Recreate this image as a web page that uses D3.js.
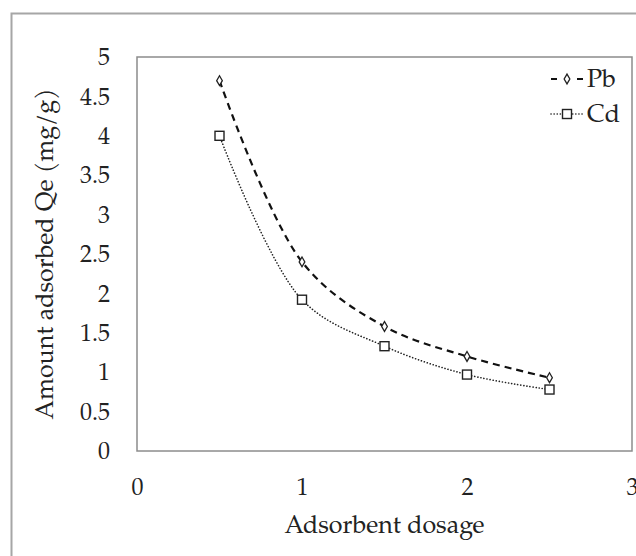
<!DOCTYPE html>
<html>
<head>
<meta charset="utf-8">
<script src="https://d3js.org/d3.v7.min.js"></script>
<style>
  body { margin: 0; background: #fff; }
  svg { display: block; }
</style>
</head>
<body>
<svg width="636" height="556"></svg>
<script>
// values
var dosage = [0.5, 1, 1.5, 2, 2.5];
var pb = [4.7, 2.4, 1.58, 1.2, 0.93];
var cd = [4.0, 1.92, 1.33, 0.97, 0.78];
var xTicks = [0, 1, 2, 3];
var yTicks = [0, 0.5, 1, 1.5, 2, 2.5, 3, 3.5, 4, 4.5, 5];

var FONT = '"TeX Gyre Pagella", "Liberation Serif", serif';
var svg = d3.select('svg');
var L = 137, R = 632, T = 57, B = 451;

// outer frame
svg.append('rect')
    .attr('x', 11.5).attr('y', 13.5)
    .attr('width', 700).attr('height', 700)
    .attr('fill', 'none').attr('stroke', '#a6a6a6').attr('stroke-width', 2);

var x = d3.scaleLinear().domain([0, 3]).range([L, R]);
var y = d3.scaleLinear().domain([0, 5]).range([B, T]);

// plot box
svg.append('rect')
    .attr('x', L).attr('y', T)
    .attr('width', R - L).attr('height', B - T)
    .attr('fill', 'none').attr('stroke', '#8c8c8c').attr('stroke-width', 1.5);

svg.append('g')
    .attr('transform', 'translate(' + L + ',0)')
    .call(d3.axisLeft(y).tickValues(yTicks).tickSize(0).tickPadding(27)
        .tickFormat(function (d) { return d; }));
svg.append('g')
    .attr('transform', 'translate(0,' + B + ')')
    .call(d3.axisBottom(x).tickValues(xTicks).tickSize(0).tickPadding(27)
        .tickFormat(d3.format('d')));

svg.selectAll('.domain').remove();
svg.selectAll('.tick text')
    .attr('font-family', FONT)
    .attr('font-size', 24).attr('fill', '#222');

svg.append('text')
    .attr('x', (L + R) / 2).attr('y', 533)
    .attr('text-anchor', 'middle').attr('font-family', FONT)
    .attr('font-size', 25).attr('fill', '#222')
    .text('Adsorbent dosage');

svg.append('text')
    .attr('transform', 'translate(53,' + ((T + B) / 2) + ') rotate(-90)')
    .attr('text-anchor', 'middle').attr('font-family', FONT)
    .attr('font-size', 25).attr('fill', '#222')
    .text('Amount adsorbed Qe (mg/g)');

var line = d3.line()
    .x(function (d) { return x(d[0]); })
    .y(function (d) { return y(d[1]); })
    .curve(d3.curveCatmullRom.alpha(0.5));

var pbData = dosage.map(function (d, i) { return [d, pb[i]]; });
var cdData = dosage.map(function (d, i) { return [d, cd[i]]; });

svg.append('path').datum(pbData)
    .attr('d', line).attr('fill', 'none')
    .attr('stroke', '#111').attr('stroke-width', 2.2)
    .attr('stroke-dasharray', '7,5');

svg.append('path').datum(cdData)
    .attr('d', line).attr('fill', 'none')
    .attr('stroke', '#222').attr('stroke-width', 1.6)
    .attr('stroke-dasharray', '0.1,3').attr('stroke-linecap', 'round');

function diamond(g, cx, cy) {
    g.append('path')
        .attr('d', d3.symbol().type(d3.symbolDiamond).size(28)())
        .attr('transform', 'translate(' + cx + ',' + cy + ')')
        .attr('fill', '#fff').attr('stroke', '#222').attr('stroke-width', 1.3);
}
function square(g, cx, cy) {
    g.append('rect')
        .attr('x', cx - 4.5).attr('y', cy - 4.5)
        .attr('width', 9).attr('height', 9)
        .attr('fill', '#fff').attr('stroke', '#222').attr('stroke-width', 1.4);
}

var marks = svg.append('g');
pbData.forEach(function (d) { diamond(marks, x(d[0]), y(d[1])); });
cdData.forEach(function (d) { square(marks, x(d[0]), y(d[1])); });

// legend
var lg = svg.append('g');
lg.append('line').attr('x1', 551).attr('x2', 583).attr('y1', 79).attr('y2', 79)
    .attr('stroke', '#111').attr('stroke-width', 2.2).attr('stroke-dasharray', '6,7');
diamond(lg, 567, 79);
lg.append('text').attr('x', 587).attr('y', 87).attr('font-family', FONT)
    .attr('font-size', 25).attr('fill', '#222').text('Pb');

lg.append('line').attr('x1', 551).attr('x2', 583).attr('y1', 114).attr('y2', 114)
    .attr('stroke', '#222').attr('stroke-width', 1.6)
    .attr('stroke-dasharray', '0.1,3').attr('stroke-linecap', 'round');
square(lg, 567, 114);
lg.append('text').attr('x', 587).attr('y', 122).attr('font-family', FONT)
    .attr('font-size', 25).attr('fill', '#222').text('Cd');
</script>
</body>
</html>
